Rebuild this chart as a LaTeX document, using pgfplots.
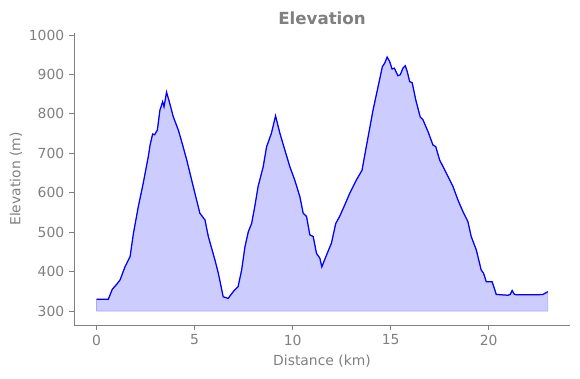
\documentclass[border=0pt]{standalone}
\usepackage{pgfplots}
\pgfplotsset{compat=1.18}
\usepackage{fontspec}
\setmainfont{DejaVu Sans}
\definecolor{txtgray}{HTML}{808080}
\definecolor{fillblue}{HTML}{CCCCFF}
\definecolor{edgeblue}{HTML}{A8A8FF}
\pgfplotstableread{
x y
0 330
0.6 330
0.8 355
1.03 368
1.2 379
1.45 412
1.71 438
1.88 497
2.13 565
2.38 624
2.64 692
2.73 721
2.86 749
2.96 747
3.10 759
3.23 809
3.37 831
3.44 818
3.57 855
3.71 831
3.91 793
4.17 759
4.34 730
4.6 683
4.93 616
5.27 548
5.53 531
5.7 489
6.04 429
6.21 396
6.46 336
6.71 332
6.97 349
7.22 362
7.40 404
7.57 463
7.74 501
7.91 522
8.07 565
8.24 616
8.5 666
8.67 716
8.92 751
9.13 795
9.35 751
9.6 709
9.86 666
10.11 632
10.37 590
10.54 548
10.71 540
10.88 493
11.05 489
11.22 446
11.39 434
11.49 412
11.73 442
11.98 472
12.2 522
12.4 540
12.66 569
12.91 598
13.25 632
13.54 657
13.76 717
14.1 809
14.36 869
14.58 920
14.7 929
14.82 944
14.95 933
15.07 914
15.19 916
15.37 897
15.49 899
15.63 916
15.75 922
15.85 907
15.97 882
16.1 879
16.28 836
16.51 792
16.65 785
16.9 756
17.16 721
17.3 717
17.5 683
17.84 650
18.18 616
18.43 582
18.69 552
18.94 527
19.11 489
19.37 455
19.62 404
19.74 396
19.88 374
20.18 374
20.39 342
20.98 340
21.1 342
21.2 352
21.3 343
21.4 341
22.42 341
22.77 342
23.02 349
}\elev
\begin{document}
\begin{tikzpicture}
\useasboundingbox (-53.3pt,-38.2pt) rectangle (364.3pt,234pt);
\begin{axis}[
  at={(0,0)}, anchor=south west,
  scale only axis, width=357.1pt, height=210.2pt,
  xmin=-1.15, xmax=24.15, ymin=264.5, ymax=1005,
  axis x line*=bottom, axis y line*=left,
  axis line style={txtgray, line width=0.6pt, -},
  tick style={txtgray, line width=0.6pt},
  tick align=outside, major tick length=3.5pt,
  xtick={0,5,10,15,20}, ytick={300,400,...,1000},
  tick label style={font=\fontsize{10}{12}\selectfont, text=txtgray},
  /pgf/number format/assume math mode=true,
  /pgf/number format/1000 sep={},
  label style={font=\fontsize{10}{12}\selectfont, text=txtgray},
  xlabel={Distance (km)}, ylabel={Elevation (m)},
  ylabel style={yshift=-2pt},
  title={\bfseries Elevation},
  title style={font=\fontsize{12}{14}\selectfont, text=txtgray, yshift=-3.5pt},
  clip=false,
]
\addplot[fill=fillblue, draw=edgeblue, line width=0.5pt] table[x=x,y=y] {\elev} -- (axis cs:23.02,300) -- (axis cs:0,300) -- cycle;
\addplot[blue, line width=0.9pt, no markers] table[x=x,y=y] {\elev};
\end{axis}
\end{tikzpicture}
\end{document}
